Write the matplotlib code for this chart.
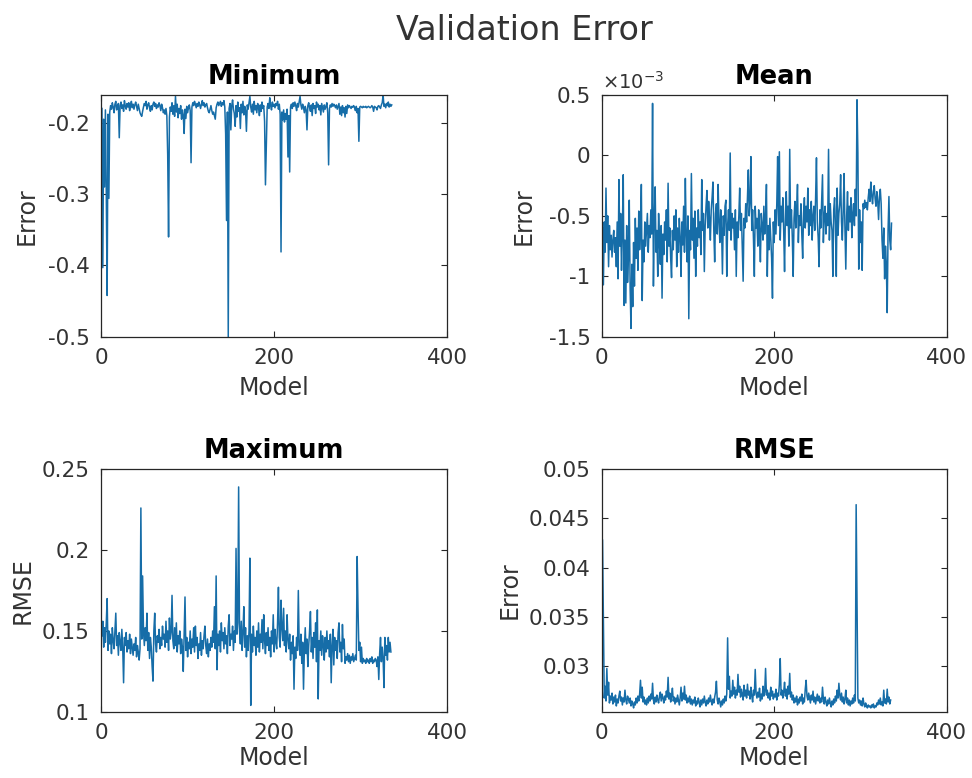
import numpy as np
import matplotlib
matplotlib.use('Agg')
import matplotlib.pyplot as plt
from matplotlib.ticker import FormatStrFormatter

# validation error per model
min_err = [
    -0.180, -0.403, -0.195, -0.290, -0.182, -0.298, -0.442, -0.188, -0.306, -0.185,
    -0.176, -0.181, -0.172, -0.178, -0.186, -0.174, -0.170, -0.182, -0.177, -0.173,
    -0.221, -0.176, -0.171, -0.180, -0.175, -0.184, -0.169, -0.177, -0.181, -0.173,
    -0.178, -0.172, -0.183, -0.176, -0.170, -0.179, -0.174, -0.181, -0.175, -0.171,
    -0.177, -0.183, -0.174, -0.180, -0.186, -0.189, -0.191, -0.184, -0.178, -0.173,
    -0.176, -0.170, -0.181, -0.175, -0.172, -0.179, -0.184, -0.176, -0.182, -0.174,
    -0.171, -0.177, -0.173, -0.180, -0.175, -0.178, -0.172, -0.176, -0.183, -0.174,
    -0.179, -0.186, -0.182, -0.188, -0.180, -0.190, -0.245, -0.360, -0.192, -0.178,
    -0.184, -0.172, -0.188, -0.176, -0.191, -0.163, -0.185, -0.174, -0.193, -0.180,
    -0.187, -0.176, -0.195, -0.182, -0.189, -0.215, -0.181, -0.194, -0.177, -0.186,
    -0.179, -0.175, -0.183, -0.256, -0.178, -0.172, -0.176, -0.170, -0.174, -0.179,
    -0.173, -0.177, -0.171, -0.175, -0.180, -0.174, -0.169, -0.176, -0.172, -0.178,
    -0.175, -0.173, -0.179, -0.184, -0.186, -0.181, -0.176, -0.183, -0.188, -0.185,
    -0.190, -0.195, -0.179, -0.174, -0.171, -0.176, -0.173, -0.170, -0.177, -0.172,
    -0.175, -0.169, -0.178, -0.216, -0.337, -0.185, -0.500, -0.180, -0.173, -0.210,
    -0.176, -0.168, -0.181, -0.187, -0.205, -0.176, -0.192, -0.171, -0.184, -0.179,
    -0.208, -0.174, -0.186, -0.170, -0.189, -0.177, -0.183, -0.212, -0.175, -0.181,
    -0.172, -0.163, -0.178, -0.185, -0.174, -0.188, -0.170, -0.182, -0.176, -0.186,
    -0.173, -0.179, -0.190, -0.175, -0.184, -0.171, -0.180, -0.176, -0.198, -0.287,
    -0.232, -0.178, -0.173, -0.180, -0.165, -0.176, -0.182, -0.171, -0.177, -0.174,
    -0.179, -0.173, -0.176, -0.170, -0.181, -0.174, -0.188, -0.381, -0.185, -0.196,
    -0.182, -0.199, -0.187, -0.195, -0.181, -0.248, -0.190, -0.269, -0.178, -0.174,
    -0.180, -0.172, -0.177, -0.171, -0.176, -0.183, -0.173, -0.178, -0.170, -0.163,
    -0.175, -0.181, -0.174, -0.179, -0.186, -0.177, -0.182, -0.210, -0.176, -0.172,
    -0.179, -0.184, -0.175, -0.190, -0.173, -0.180, -0.176, -0.187, -0.171, -0.178,
    -0.174, -0.182, -0.176, -0.189, -0.173, -0.179, -0.185, -0.175, -0.181, -0.177,
    -0.172, -0.186, -0.259, -0.180, -0.175, -0.178, -0.173, -0.177, -0.174, -0.176,
    -0.179, -0.175, -0.181, -0.177, -0.173, -0.188, -0.178, -0.190, -0.176, -0.186,
    -0.179, -0.192, -0.177, -0.187, -0.175, -0.179, -0.176, -0.178, -0.180, -0.177,
    -0.178, -0.176, -0.179, -0.183, -0.177, -0.186, -0.180, -0.226, -0.178, -0.177,
    -0.178, -0.179, -0.177, -0.178, -0.178, -0.177, -0.179, -0.178, -0.177, -0.178,
    -0.179, -0.178, -0.176, -0.178, -0.184, -0.177, -0.178, -0.179, -0.182, -0.177,
    -0.176, -0.178, -0.180, -0.175, -0.172, -0.161, -0.177, -0.174, -0.179, -0.173,
    -0.176, -0.171, -0.178, -0.174, -0.177, -0.175,
]

# mean error, in units of 1e-3
mean_err_e3 = [
    -0.60, -1.07, -0.55, -0.80, -0.27, -0.72, -0.50, -0.92, -0.58, -0.78,
    -0.66, -0.84, -0.70, -0.62, -0.80, -0.68, -0.92, -0.55, -1.02, -0.20,
    -0.75, -0.48, -0.95, -0.62, -0.16, -1.24, -0.70, -1.22, -0.58, -1.05,
    -0.85, -0.37, -1.10, -1.43, -0.90, -1.25, -0.72, -1.08, -0.52, -0.85,
    -0.60, -0.95, -0.46, -0.78, -0.62, -0.24, -1.20, -0.70, -0.88, -0.55,
    -0.75, -0.62, -0.48, -0.80, -0.58, -0.68, -0.45, -0.65, 0.43, -1.08,
    -0.55, -0.26, -0.80, -0.62, -1.00, -0.48, -0.72, -0.90, -0.58, -1.18,
    -0.65, -0.82, -0.55, -0.70, -0.45, -0.88, -0.23, -0.75, -0.60, -0.85,
    -1.01, -0.62, -0.78, -0.50, -0.70, -0.45, -0.92, -0.60, -0.80, -0.52,
    -0.68, -1.00, -0.55, -0.74, -0.42, -0.80, -0.19, -0.66, -0.88, -0.50,
    -1.35, -0.62, -0.78, -0.15, -0.70, -0.52, -0.85, -0.46, -1.00, -0.60,
    -0.75, -0.45, -0.68, -0.55, -0.82, -0.20, -0.62, -0.48, -0.96, -0.58,
    -0.42, -0.29, -0.60, -0.38, -0.52, -0.70, -0.45, -0.35, -0.22, -0.62,
    -0.88, -0.48, -0.40, -0.65, -0.24, -0.55, -0.72, -0.45, -0.60, -0.98,
    -0.50, -0.66, -0.42, -0.37, -1.00, -0.58, -0.45, -0.62, 0.02, -0.70,
    -0.48, -0.60, -0.52, -0.78, -0.45, -1.00, -0.55, -0.68, -0.50, -0.27,
    -0.62, -0.48, -0.75, -1.04, -0.52, -0.60, -0.40, -0.55, -0.35, -0.12,
    -0.50, -0.38, -0.01, -0.62, -0.45, -0.70, -1.00, -0.42, -0.60, -0.52,
    -0.75, -0.45, -0.62, -0.88, -0.48, -0.58, -0.70, -0.42, -0.65, -0.50,
    -0.24, -1.00, -0.58, -0.78, -0.52, -0.68, -0.85, -1.18, -0.55, -0.72,
    -0.45, -0.65, -0.40, -0.01, -0.58, 0.03, -0.70, -0.42, -0.55, -0.35,
    -0.62, -0.96, -0.48, -0.30, -0.58, -0.42, -0.75, 0.05, -0.60, -0.45,
    -0.68, -1.00, -0.52, -0.38, -0.60, -0.45, -0.24, -0.72, -0.50, -0.58,
    -0.40, -0.65, -0.85, -0.48, -0.35, -0.60, -0.42, -0.55, -0.27, -0.66,
    -0.45, -0.58, -0.38, -0.70, -0.50, -0.42, -0.62, -0.35, -0.02, -0.55,
    -0.68, -0.92, -0.45, -0.60, -0.38, -0.16, -0.72, -0.50, -0.42, -0.65,
    -0.48, -0.58, 0.05, -0.70, -0.40, -0.55, -0.62, -1.00, -0.45, -0.35,
    -0.58, -1.00, -0.27, -0.66, -0.48, -0.40, -0.16, -0.55, -0.70, -0.45,
    -0.15, -0.60, -0.94, -0.50, -0.30, -0.62, -0.42, -0.55, -0.35, -0.68,
    -0.48, -0.40, -0.58, -0.28, -0.50, 0.46, 0.02, -0.94, -0.45, -0.72,
    -0.55, -0.95, -0.40, -0.44, -0.37, -0.43, -0.39, -0.45, -0.35, -0.28,
    -0.38, -0.22, -0.33, -0.40, -0.30, -0.25, -0.36, -0.42, -0.30, -0.38,
    -0.53, -0.34, -0.28, -0.40, -0.70, -0.85, -0.60, -1.02, -0.75, -0.90,
    -1.30, -0.62, -0.34, -0.70, -0.78, -0.56,
]

max_err = [
    0.147, 0.156, 0.140, 0.152, 0.143, 0.155, 0.170, 0.138, 0.150, 0.142,
    0.148, 0.136, 0.152, 0.144, 0.139, 0.150, 0.161, 0.141, 0.147, 0.135,
    0.149, 0.143, 0.138, 0.151, 0.140, 0.118, 0.146, 0.141, 0.149, 0.137,
    0.144, 0.139, 0.148, 0.136, 0.145, 0.140, 0.135, 0.142, 0.138, 0.146,
    0.134, 0.141, 0.137, 0.132, 0.139, 0.226, 0.145, 0.184, 0.150, 0.141,
    0.152, 0.144, 0.161, 0.138, 0.149, 0.133, 0.146, 0.140, 0.128, 0.119,
    0.150, 0.161, 0.142, 0.137, 0.147, 0.143, 0.151, 0.139, 0.146, 0.141,
    0.153, 0.145, 0.148, 0.140, 0.156, 0.143, 0.150, 0.138, 0.158, 0.145,
    0.149, 0.172, 0.144, 0.139, 0.152, 0.141, 0.155, 0.137, 0.147, 0.142,
    0.150, 0.136, 0.145, 0.140, 0.125, 0.148, 0.171, 0.138, 0.146, 0.134,
    0.143, 0.139, 0.150, 0.136, 0.145, 0.140, 0.152, 0.137, 0.153, 0.141,
    0.146, 0.133, 0.142, 0.138, 0.149, 0.135, 0.144, 0.139, 0.147, 0.153,
    0.141, 0.136, 0.145, 0.134, 0.142, 0.138, 0.146, 0.140, 0.150, 0.143,
    0.165, 0.139, 0.184, 0.126, 0.148, 0.141, 0.150, 0.137, 0.155, 0.144,
    0.149, 0.139, 0.152, 0.142, 0.147, 0.136, 0.153, 0.160, 0.141, 0.148,
    0.145, 0.153, 0.138, 0.150, 0.143, 0.201, 0.148, 0.155, 0.239, 0.150,
    0.142, 0.156, 0.138, 0.149, 0.165, 0.140, 0.152, 0.134, 0.147, 0.138,
    0.150, 0.195, 0.104, 0.148, 0.137, 0.153, 0.141, 0.146, 0.135, 0.150,
    0.140, 0.155, 0.137, 0.148, 0.143, 0.157, 0.139, 0.160, 0.144, 0.136,
    0.149, 0.141, 0.152, 0.138, 0.146, 0.134, 0.150, 0.142, 0.160, 0.137,
    0.151, 0.143, 0.139, 0.155, 0.177, 0.146, 0.140, 0.169, 0.152, 0.144,
    0.164, 0.141, 0.150, 0.137, 0.160, 0.145, 0.139, 0.148, 0.132, 0.143,
    0.136, 0.147, 0.114, 0.140, 0.133, 0.146, 0.138, 0.175, 0.141, 0.135,
    0.148, 0.130, 0.143, 0.114, 0.139, 0.152, 0.136, 0.145, 0.128, 0.141,
    0.150, 0.162, 0.137, 0.146, 0.133, 0.149, 0.140, 0.155, 0.131, 0.163,
    0.108, 0.144, 0.138, 0.150, 0.135, 0.147, 0.141, 0.132, 0.146, 0.137,
    0.150, 0.139, 0.144, 0.134, 0.148, 0.118, 0.141, 0.151, 0.129, 0.146,
    0.138, 0.144, 0.133, 0.149, 0.155, 0.137, 0.143, 0.131, 0.154, 0.139,
    0.145, 0.130, 0.134, 0.132, 0.136, 0.131, 0.135, 0.130, 0.134, 0.132,
    0.136, 0.131, 0.133, 0.135, 0.132, 0.196, 0.164, 0.138, 0.143, 0.131,
    0.140, 0.130, 0.133, 0.131, 0.132, 0.130, 0.133, 0.131, 0.132, 0.130,
    0.133, 0.131, 0.134, 0.130, 0.132, 0.131, 0.133, 0.132, 0.128, 0.134,
    0.120, 0.136, 0.146, 0.131, 0.140, 0.133, 0.115, 0.146, 0.135, 0.141,
    0.132, 0.146, 0.137, 0.143, 0.137,
]

rmse = [
    0.0428, 0.0344, 0.0268, 0.0280, 0.0265, 0.0298, 0.0271, 0.0284, 0.0263, 0.0270,
    0.0266, 0.0273, 0.0262, 0.0269, 0.0264, 0.0271, 0.0260, 0.0267, 0.0263, 0.0270,
    0.0275, 0.0265, 0.0269, 0.0261, 0.0268, 0.0264, 0.0276, 0.0266, 0.0262, 0.0270,
    0.0267, 0.0263, 0.0268, 0.0260, 0.0265, 0.0262, 0.0258, 0.0264, 0.0261, 0.0268,
    0.0263, 0.0270, 0.0265, 0.0272, 0.0286, 0.0268, 0.0279, 0.0264, 0.0269, 0.0262,
    0.0266, 0.0261, 0.0268, 0.0263, 0.0270, 0.0265, 0.0272, 0.0267, 0.0283, 0.0266,
    0.0262, 0.0269, 0.0264, 0.0271, 0.0266, 0.0263, 0.0270, 0.0274, 0.0265, 0.0272,
    0.0268, 0.0263, 0.0270, 0.0266, 0.0275, 0.0269, 0.0289, 0.0267, 0.0273, 0.0264,
    0.0270, 0.0278, 0.0265, 0.0269, 0.0262, 0.0268, 0.0264, 0.0271, 0.0266, 0.0261,
    0.0268, 0.0279, 0.0265, 0.0273, 0.0267, 0.0280, 0.0266, 0.0271, 0.0263, 0.0268,
    0.0264, 0.0270, 0.0262, 0.0267, 0.0261, 0.0266, 0.0263, 0.0269, 0.0260, 0.0265,
    0.0262, 0.0268, 0.0264, 0.0259, 0.0266, 0.0261, 0.0267, 0.0263, 0.0270, 0.0264,
    0.0260, 0.0266, 0.0262, 0.0268, 0.0264, 0.0271, 0.0265, 0.0261, 0.0267, 0.0263,
    0.0269, 0.0274, 0.0285, 0.0266, 0.0262, 0.0268, 0.0264, 0.0259, 0.0265, 0.0261,
    0.0267, 0.0263, 0.0270, 0.0265, 0.0272, 0.0329, 0.0277, 0.0290, 0.0268, 0.0275,
    0.0270, 0.0286, 0.0272, 0.0279, 0.0268, 0.0276, 0.0271, 0.0292, 0.0274, 0.0280,
    0.0269, 0.0277, 0.0272, 0.0266, 0.0281, 0.0270, 0.0276, 0.0268, 0.0282, 0.0271,
    0.0275, 0.0267, 0.0279, 0.0270, 0.0264, 0.0276, 0.0271, 0.0297, 0.0273, 0.0268,
    0.0274, 0.0269, 0.0278, 0.0265, 0.0272, 0.0267, 0.0280, 0.0270, 0.0274, 0.0298,
    0.0271, 0.0276, 0.0268, 0.0273, 0.0266, 0.0279, 0.0270, 0.0275, 0.0267, 0.0272,
    0.0269, 0.0277, 0.0266, 0.0273, 0.0270, 0.0282, 0.0308, 0.0271, 0.0276, 0.0268,
    0.0274, 0.0284, 0.0270, 0.0277, 0.0267, 0.0280, 0.0272, 0.0293, 0.0269, 0.0274,
    0.0266, 0.0271, 0.0263, 0.0268, 0.0264, 0.0270, 0.0261, 0.0267, 0.0263, 0.0269,
    0.0265, 0.0272, 0.0262, 0.0268, 0.0264, 0.0277, 0.0286, 0.0270, 0.0266, 0.0273,
    0.0268, 0.0263, 0.0271, 0.0266, 0.0275, 0.0264, 0.0269, 0.0262, 0.0267, 0.0272,
    0.0265, 0.0270, 0.0263, 0.0268, 0.0264, 0.0279, 0.0267, 0.0262, 0.0269, 0.0264,
    0.0260, 0.0266, 0.0262, 0.0268, 0.0263, 0.0259, 0.0265, 0.0261, 0.0267, 0.0263,
    0.0270, 0.0265, 0.0276, 0.0268, 0.0283, 0.0271, 0.0266, 0.0273, 0.0264, 0.0269,
    0.0262, 0.0267, 0.0276, 0.0263, 0.0268, 0.0261, 0.0266, 0.0260, 0.0265, 0.0262,
    0.0268, 0.0263, 0.0271, 0.0265, 0.0464, 0.0364, 0.0268, 0.0263, 0.0266, 0.0261,
    0.0265, 0.0260, 0.0268, 0.0262, 0.0259, 0.0263, 0.0260, 0.0258, 0.0261, 0.0259,
    0.0260, 0.0258, 0.0261, 0.0259, 0.0262, 0.0258, 0.0260, 0.0259, 0.0263, 0.0261,
    0.0266, 0.0262, 0.0268, 0.0261, 0.0264, 0.0260, 0.0276, 0.0263, 0.0267, 0.0262,
    0.0277, 0.0264, 0.0269, 0.0262, 0.0266,
]

x_ticks = [0, 200, 400]

plt.rcParams['font.family'] = 'DejaVu Sans'
plt.rcParams['axes.unicode_minus'] = False

line_col = '#166da8'
text_col = '#333333'

fig = plt.figure(figsize=(9.72, 7.78), dpi=100)
fig.patch.set_facecolor('white')

# left, bottom, width, height of each panel
boxes = [
    [0.104, 0.567, 0.356, 0.311],
    [0.619, 0.567, 0.355, 0.311],
    [0.104, 0.085, 0.356, 0.312],
    [0.619, 0.085, 0.355, 0.312],
]

panels = [
    (min_err, 'Minimum', 'Error', (min(min_err), max(min_err)), [-0.5, -0.4, -0.3, -0.2], -0.214),
    (mean_err_e3, 'Mean', 'Error', (-1.5, 0.5), [-1.5, -1, -0.5, 0, 0.5], -0.225),
    (max_err, 'Maximum', 'RMSE', (0.1, 0.25), [0.1, 0.15, 0.2, 0.25], -0.228),
    (rmse, 'RMSE', 'Error', (0.0254, 0.05), [0.03, 0.035, 0.04, 0.045, 0.05], -0.266),
]

axes = []
for box, (vals, title, ylab, ylim, yticks, ylab_x) in zip(boxes, panels):
    ax = fig.add_axes(box)
    models = np.arange(1, len(vals) + 1)
    ax.plot(models, vals, color=line_col, lw=1.1)
    ax.set_xlim(0, 400)
    ax.set_ylim(*ylim)
    ax.set_xticks(x_ticks)
    ax.set_yticks(yticks)
    ax.yaxis.set_major_formatter(FormatStrFormatter('%g'))
    ax.tick_params(direction='in', length=4, width=0.8, top=True, right=True,
                   labelsize=15.5, labelcolor=text_col, color='#262626', pad=8)
    for s in ax.spines.values():
        s.set_color('#262626')
        s.set_linewidth(0.9)
    ax.set_title(title, fontsize=18.5, fontweight='bold', pad=8)
    ax.set_xlabel('Model', fontsize=17, color=text_col)
    ax.set_ylabel(ylab, fontsize=17, color=text_col)
    ax.xaxis.label.set_va('center')
    ax.yaxis.label.set_va('center')
    ax.yaxis.set_label_coords(ylab_x, 0.5)
    axes.append(ax)

axes[0].xaxis.set_label_coords(0.5, -0.21)
axes[1].xaxis.set_label_coords(0.5, -0.21)
axes[2].xaxis.set_label_coords(0.5, -0.19)
axes[3].xaxis.set_label_coords(0.5, -0.19)

# exponent for the mean panel
axes[1].text(0.0, 1.01, r'$\times$10$^{-3}$', transform=axes[1].transAxes,
             ha='left', va='bottom', fontsize=14, color=text_col)

fig.text(0.539, 0.961, 'Validation Error', ha='center', va='center',
         fontsize=24, color=text_col)

fig.savefig('out.png', dpi=100)
